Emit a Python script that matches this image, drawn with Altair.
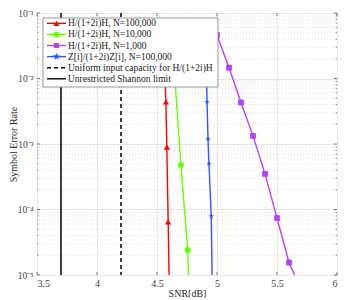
import math
import altair as alt
import pandas as pd

# ---------------- data ----------------
red_snr = [4.56, 4.574, 4.582, 4.593, 4.603]
red_ser = [2.0e-2, 4.4e-3, 9.0e-4, 6.5e-5, 5.0e-6]

green_snr = [4.65, 4.699, 4.756, 4.77]
green_ser = [9.5e-3, 4.8e-4, 2.4e-5, 3.0e-6]

purple_snr = [5.0, 5.1, 5.2, 5.3, 5.4, 5.5, 5.6, 5.7]
purple_ser = [4.6e-2, 1.46e-2, 4.3e-3, 1.33e-3, 3.5e-4, 7.4e-5, 1.55e-5, 6.0e-6]

blue_snr = [4.91, 4.917, 4.925, 4.933, 4.952, 4.962]
blue_ser = [1.5e-2, 4.4e-3, 1.19e-3, 5.0e-4, 7.9e-5, 4.0e-6]

shannon_limit = 3.7
uniform_capacity = 4.2

series_names = [
    "H/(1+2i)H, N=100,000",
    "H/(1+2i)H, N=10,000",
    "H/(1+2i)H, N=1,000",
    "Z[i]/(1+2i)Z[i], N=100,000",
]
series_colors = ["#ff0000", "#66ff00", "#b340ff", "#3355ff"]
line_names = ["Uniform input capacity for H/(1+2i)H", "Unrestricted Shannon limit"]

x_ticks = [3.5, 4, 4.5, 5, 5.5, 6]
y_ticks = [1e-5, 1e-4, 1e-3, 1e-2, 1e-1]
y_minor = [m * 10.0 ** e for e in range(-5, -1) for m in range(2, 10)]

# ---------------- styling ----------------
W, H = 300, 262
FONT = "Liberation Serif"

def star_path(n=5, r_out=1.0, r_in=0.42):
    pts = []
    for k in range(2 * n):
        r = r_out if k % 2 == 0 else r_in
        a = -math.pi / 2 + k * math.pi / n
        pts.append(f"{r * math.cos(a):.3f},{r * math.sin(a):.3f}")
    return "M" + "L".join(pts) + "Z"

STAR = star_path()
shapes = ["triangle-up", "circle", "square", STAR]
sizes = [38, 30, 26, 60]

rows = []
for name, xs, ys in zip(series_names, [red_snr, green_snr, purple_snr, blue_snr],
                        [red_ser, green_ser, purple_ser, blue_ser]):
    for a, b in zip(xs, ys):
        rows.append({"series": name, "snr": a, "ser": b})
df = pd.DataFrame(rows)

xscale = alt.Scale(domain=[3.5, 6], nice=False, zero=False)
yscale = alt.Scale(type="log", domain=[1e-5, 1e-1], nice=False)

label_expr = ("datum.value >= 0.09 ? '10⁻¹' : datum.value >= 0.009 ? '10⁻²' : "
              "datum.value >= 0.0009 ? '10⁻³' : datum.value >= 0.00009 ? '10⁻⁴' : '10⁻⁵'")

x_axis = alt.Axis(values=x_ticks, format="~g", grid=True, gridColor="#e6e6e6",
                  ticks=False, domain=False, labelFont=FONT, labelFontSize=10,
                  labelColor="#404040", labelPadding=3, title="SNR[dB]",
                  titleFont=FONT, titleFontSize=10, titleFontWeight="normal",
                  titleColor="#262626", titlePadding=0, minExtent=0)
y_axis = alt.Axis(values=y_ticks, labelExpr=label_expr, grid=True, gridColor="#e6e6e6",
                  ticks=False, domain=False, labelFont=FONT, labelFontSize=9.5,
                  labelColor="#404040", labelPadding=4, title="Symbol Error Rate",
                  titleFont=FONT, titleFontSize=10, titleFontWeight="normal",
                  titleColor="#262626", titlePadding=1, minExtent=18, maxExtent=18)

layers = []

# axes + minor dotted grid (first layers carry the axes)
grid_df = pd.DataFrame({"v": y_minor})
layers.append(alt.Chart(grid_df).mark_rule(color="#d9d9d9", strokeDash=[1, 2], strokeWidth=0.8)
              .encode(y=alt.Y("v:Q", scale=yscale, axis=y_axis)))
layers.append(alt.Chart(pd.DataFrame({"snr": x_ticks})).mark_rule(opacity=0)
              .encode(x=alt.X("snr:Q", scale=xscale, axis=x_axis)))

# main data
color_scale = alt.Scale(domain=series_names, range=series_colors)
shape_scale = alt.Scale(domain=series_names, range=shapes)
size_scale = alt.Scale(domain=series_names, range=sizes)

lines = alt.Chart(df).mark_line(strokeWidth=1.4, clip=True).encode(
    x=alt.X("snr:Q", scale=xscale), y=alt.Y("ser:Q", scale=yscale),
    color=alt.Color("series:N", scale=color_scale, legend=None),
    detail="series:N",
)
points = alt.Chart(df).mark_point(filled=True, opacity=1, clip=True).encode(
    x=alt.X("snr:Q", scale=xscale), y=alt.Y("ser:Q", scale=yscale),
    color=alt.Color("series:N", scale=color_scale, legend=None),
    shape=alt.Shape("series:N", scale=shape_scale, legend=None),
    size=alt.Size("series:N", scale=size_scale, legend=None),
)

vdf_solid = pd.DataFrame({"snr": [shannon_limit]})
vdf_dash = pd.DataFrame({"snr": [uniform_capacity]})
vsolid = alt.Chart(vdf_solid).mark_rule(color="black", strokeWidth=1.5).encode(
    x=alt.X("snr:Q", scale=xscale))
vdash = alt.Chart(vdf_dash).mark_rule(color="black", strokeWidth=1.5, strokeDash=[4, 3]).encode(
    x=alt.X("snr:Q", scale=xscale))

layers += [vsolid, vdash, lines, points]

# inside ticks
xt_df = pd.DataFrame({"v": x_ticks})
yt_df = pd.DataFrame({"v": y_ticks})
ym_df = pd.DataFrame({"v": y_minor})
tick_col = "#555555"
layers.append(alt.Chart(xt_df).mark_rule(color=tick_col, strokeWidth=0.8).encode(
    x=alt.X("v:Q", scale=xscale), y=alt.value(0), y2=alt.value(3)))
layers.append(alt.Chart(xt_df).mark_rule(color=tick_col, strokeWidth=0.8).encode(
    x=alt.X("v:Q", scale=xscale), y=alt.value(H), y2=alt.value(H - 3)))
layers.append(alt.Chart(yt_df).mark_rule(color=tick_col, strokeWidth=0.8).encode(
    y=alt.Y("v:Q", scale=yscale), x=alt.value(0), x2=alt.value(3)))
layers.append(alt.Chart(yt_df).mark_rule(color=tick_col, strokeWidth=0.8).encode(
    y=alt.Y("v:Q", scale=yscale), x=alt.value(W), x2=alt.value(W - 3)))
layers.append(alt.Chart(ym_df).mark_rule(color=tick_col, strokeWidth=0.6).encode(
    y=alt.Y("v:Q", scale=yscale), x=alt.value(0), x2=alt.value(1.5)))
layers.append(alt.Chart(ym_df).mark_rule(color=tick_col, strokeWidth=0.6).encode(
    y=alt.Y("v:Q", scale=yscale), x=alt.value(W), x2=alt.value(W - 1.5)))

# ---------------- legend (layout) ----------------
LX0, LX1, LY0, LY1 = 6, 181, 5, 74
row_y0, row_dy = 10.3, 11.1
leg_rows = []
all_names = series_names + line_names
all_cols = series_colors + ["black", "black"]
for i, (nm, col) in enumerate(zip(all_names, all_cols)):
    leg_rows.append({"name": nm, "col": col, "py": row_y0 + i * row_dy,
                     "px0": 10, "px1": 29, "pm": 19.5, "pt": 31,
                     "shape": shapes[i] if i < 4 else "", "sz": sizes[i] if i < 4 else 0,
                     "kind": "marker" if i < 4 else ("dash" if i == 4 else "solid")})
leg = pd.DataFrame(leg_rows)

box = alt.Chart(pd.DataFrame({"a": [0]})).mark_rect(fill="white", stroke="#8c8c8c", strokeWidth=0.9).encode(
    x=alt.value(LX0), x2=alt.value(LX1), y=alt.value(LY0), y2=alt.value(LY1))
leg_lines = alt.Chart(leg).transform_filter("datum.kind != 'dash'").mark_rule(strokeWidth=1.4).encode(
    x=alt.X("px0:Q", scale=None, axis=None), x2="px1:Q",
    y=alt.Y("py:Q", scale=None, axis=None),
    color=alt.Color("col:N", scale=None))
leg_dash = alt.Chart(leg).transform_filter("datum.kind == 'dash'").mark_rule(
    strokeWidth=1.5, strokeDash=[4, 3]).encode(
    x=alt.X("px0:Q", scale=None, axis=None), x2="px1:Q",
    y=alt.Y("py:Q", scale=None, axis=None),
    color=alt.Color("col:N", scale=None))
leg_pts = alt.Chart(leg).transform_filter("datum.kind == 'marker'").mark_point(filled=True, opacity=1).encode(
    x=alt.X("pm:Q", scale=None, axis=None),
    y=alt.Y("py:Q", scale=None, axis=None),
    color=alt.Color("col:N", scale=None),
    shape=alt.Shape("shape:N", scale=None),
    size=alt.Size("sz:Q", scale=None))
leg_txt = alt.Chart(leg).mark_text(align="left", baseline="middle", font=FONT, fontSize=9.5,
                                   color="#1a1a1a").encode(
    x=alt.X("pt:Q", scale=None, axis=None),
    y=alt.Y("py:Q", scale=None, axis=None),
    text="name:N")

layers += [box, leg_lines, leg_dash, leg_pts, leg_txt]

chart = alt.layer(*layers).resolve_scale(color="independent", shape="independent",
                                         size="independent").properties(
    width=W, height=H, padding={"left": 0, "top": 0, "right": 0, "bottom": 0}
).configure_view(stroke="#8c8c8c", strokeWidth=1.2).configure(background="white")

chart.save("out.html", embed_options={"renderer": "svg", "actions": False})
